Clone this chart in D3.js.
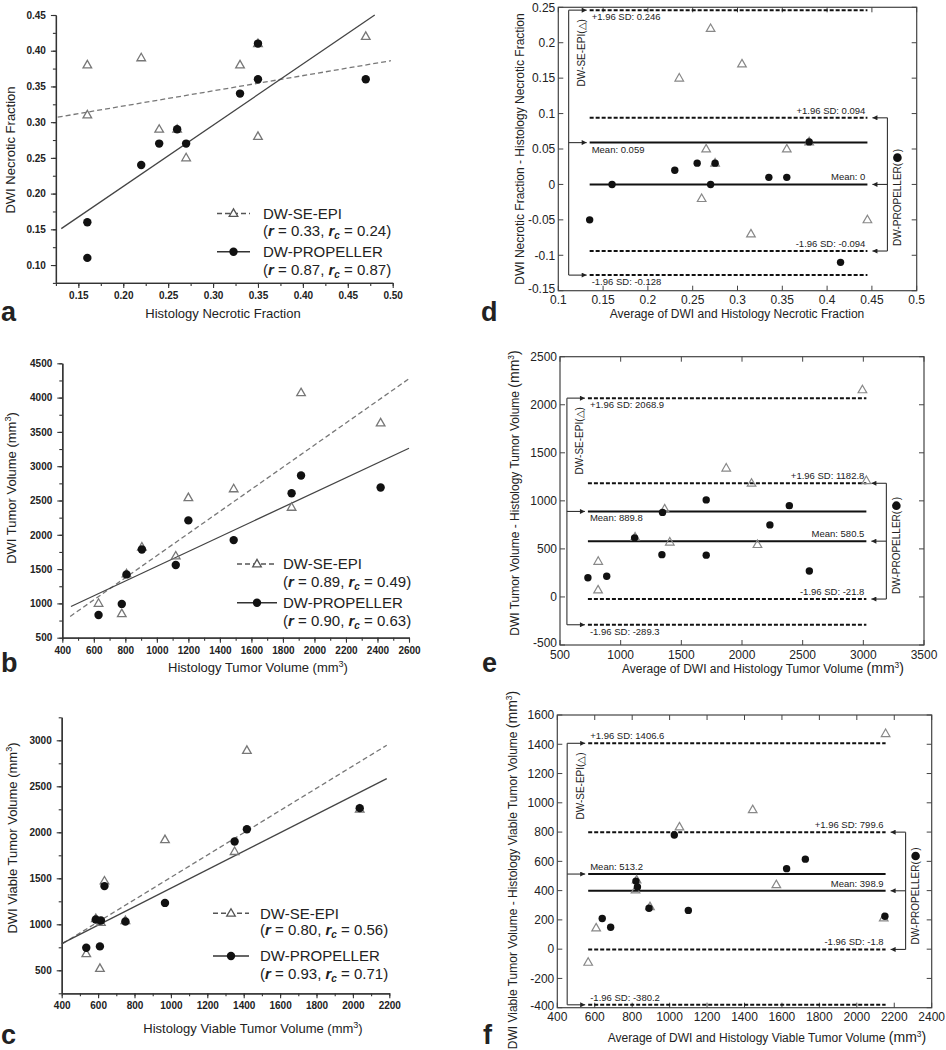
<!DOCTYPE html>
<html><head><meta charset="utf-8">
<script src="https://cdn.jsdelivr.net/npm/d3@7"></script>
<style>
body{margin:0;background:#fff}
svg{display:block}
text{font-family:Arial,"Liberation Sans",Helvetica,sans-serif;fill:#222}
</style>
</head><body>
<svg id="chart" width="946" height="1050"></svg>
<script>
// ---------------- DATA ----------------
// Necrotic fraction (panels a, d)
const necHist = [0.16, 0.16, 0.22, 0.24, 0.26, 0.27, 0.33, 0.35, 0.35, 0.47];
const necEpi  = [0.38, 0.31, 0.39, 0.29, 0.29, 0.25, 0.38, 0.41, 0.28, 0.42];
const necProp = [0.16, 0.11, 0.24, 0.27, 0.29, 0.27, 0.34, 0.36, 0.41, 0.36];
const necFitEpi  = [[0.127, 0.307], [0.498, 0.386]];
const necFitProp = [[0.131, 0.151], [0.480, 0.450]];
const necR  = [0.33, 0.87];
const necRc = [0.24, 0.87];
const necEpiLoA  = [0.246, 0.059, -0.128];
const necPropLoA = [0.094, 0, -0.094];
const necXTicks = [0.15, 0.20, 0.25, 0.30, 0.35, 0.40, 0.45, 0.50];
const necYTicks = [0.10, 0.15, 0.20, 0.25, 0.30, 0.35, 0.40, 0.45];
const necBAXTicks = [0.1, 0.15, 0.2, 0.25, 0.3, 0.35, 0.4, 0.45, 0.5];
const necBAYTicks = [-0.15, -0.1, -0.05, 0, 0.05, 0.1, 0.15, 0.2, 0.25];

// Tumor volume (panels b, e)
const volHist = [630, 777.5, 807.5, 905, 1120, 1200, 1487.5, 1855, 1915, 2420];
const volEpi  = [1000, 850, 1430, 1820, 1690, 2540, 2670, 2400, 4070, 3630];
const volProp = [830, 992.5, 1422.5, 1785, 1560, 2210, 1922.5, 2605, 2865, 2690];
const volFitEpi  = [[450, 810], [2595, 4267]];
const volFitProp = [[455, 955], [2600, 3262]];
const volR  = [0.89, 0.90];
const volRc = [0.49, 0.63];
const volEpiLoA  = [2068.9, 889.8, -289.3];
const volPropLoA = [1182.8, 580.5, -21.8];
const volXTicks = [400, 600, 800, 1000, 1200, 1400, 1600, 1800, 2000, 2200, 2400, 2600];
const volYTicks = [500, 1000, 1500, 2000, 2500, 3000, 3500, 4000, 4500];
const volBAXTicks = [500, 1000, 1500, 2000, 2500, 3000, 3500];
const volBAYTicks = [-500, 0, 500, 1000, 1500, 2000, 2500];

// Viable tumor volume (panels c, f)
const viaHist = [535, 610, 587.5, 615.5, 750, 635, 967.5, 1350, 1417.5, 2037.5];
const viaEpi  = [680, 520, 1060, 1020, 1040, 1470, 1920, 1790, 2890, 2250];
const viaProp = [745, 760, 1052.5, 1040.5, 1030, 1415, 1232.5, 1900, 2032.5, 2262.5];
const viaFitEpi  = [[405, 790], [2186, 2946]];
const viaFitProp = [[400, 790], [2186, 2584]];
const viaR  = [0.80, 0.93];
const viaRc = [0.56, 0.71];
const viaEpiLoA  = [1406.6, 513.2, -380.2];
const viaPropLoA = [799.6, 398.9, -1.8];
const viaXTicks = [400, 600, 800, 1000, 1200, 1400, 1600, 1800, 2000, 2200];
const viaYTicks = [500, 1000, 1500, 2000, 2500, 3000];
const viaBAXTicks = [400, 600, 800, 1000, 1200, 1400, 1600, 1800, 2000, 2200, 2400];
const viaBAYTicks = [-400, -200, 0, 200, 400, 600, 800, 1000, 1200, 1400, 1600];

// ---------------- DRAWING ----------------
const svg = d3.select("#chart");
const defs = svg.append("defs");
defs.append("marker").attr("id", "arr").attr("viewBox", "0 0 6 6")
  .attr("refX", 6).attr("refY", 3).attr("markerWidth", 6).attr("markerHeight", 5)
  .attr("markerUnits", "userSpaceOnUse").attr("orient", "auto")
  .append("path").attr("d", "M0,0L6,3L0,6Z").attr("fill", "#222");

const triPath = "M0,-4.6L4.3,2.9L-4.3,2.9Z";

function addTitle(g, x, y, rotate, parts, size, anchor) {
  const t = g.append("text")
    .attr("transform", `translate(${x},${y})` + (rotate ? " rotate(-90)" : ""))
    .attr("text-anchor", anchor || "middle")
    .attr("font-size", size);
  parts.forEach(p => {
    const s = t.append("tspan").text(p.t);
    if (p.sup) s.attr("baseline-shift", "super").attr("font-size", size * 0.7);
    if (p.size) s.attr("font-size", p.size);
  });
  return t;
}

function scatterPanel(c) {
  const g = svg.append("g");
  const x = d3.scaleLinear().domain(c.xDomain).range(c.xRange);
  const y = d3.scaleLinear().domain(c.yDomain).range(c.yRange);
  const y0 = c.yRange[0], x0 = c.xRange[0];

  const styleAxis = sel => {
    sel.selectAll("path.domain").attr("stroke", "#333").attr("stroke-width", 1.3);
    sel.selectAll(".tick line").attr("stroke", "#333").attr("stroke-width", 1.1);
    sel.selectAll(".tick text").attr("font-size", 10).attr("font-weight", "bold")
      .attr("fill", "#333").attr("font-family", "Arial, 'Liberation Sans', sans-serif");
  };
  g.append("g").attr("transform", `translate(0,${y0})`)
    .call(d3.axisBottom(x).tickValues(c.xMinor).tickSize(3).tickSizeOuter(0).tickFormat(""))
    .call(styleAxis);
  g.append("g").attr("transform", `translate(0,${y0})`)
    .call(d3.axisBottom(x).tickValues(c.xTicks).tickSize(5).tickPadding(4).tickSizeOuter(0).tickFormat(c.fmt))
    .call(styleAxis);
  g.append("g").attr("transform", `translate(${x0},0)`)
    .call(d3.axisLeft(y).tickValues(c.yMinor).tickSize(3).tickSizeOuter(0).tickFormat(""))
    .call(styleAxis);
  g.append("g").attr("transform", `translate(${x0},0)`)
    .call(d3.axisLeft(y).tickValues(c.yTicks).tickSize(5).tickPadding(5).tickSizeOuter(0).tickFormat(c.fmt))
    .call(styleAxis);

  const line = d3.line().x(d => x(d[0])).y(d => y(d[1]));
  g.append("path").attr("d", line(c.fitEpi)).attr("fill", "none")
    .attr("stroke", "#777").attr("stroke-width", 1.3).attr("stroke-dasharray", "5,3");
  g.append("path").attr("d", line(c.fitProp)).attr("fill", "none")
    .attr("stroke", "#444").attr("stroke-width", 1.3);

  g.selectAll("path.tri").data(c.hist.map((h, i) => [h, c.epi[i]])).join("path")
    .attr("class", "tri").attr("d", triPath)
    .attr("transform", d => `translate(${x(d[0])},${y(d[1])})`)
    .attr("fill", "none").attr("stroke", "#777").attr("stroke-width", 1.3);
  g.selectAll("circle.pt").data(c.hist.map((h, i) => [h, c.prop[i]])).join("circle")
    .attr("class", "pt").attr("cx", d => x(d[0])).attr("cy", d => y(d[1]))
    .attr("r", 4.2).attr("fill", "#111");

  // legend
  const L = c.legend;
  g.append("line").attr("x1", L.sx1).attr("x2", L.sx2).attr("y1", L.sy1).attr("y2", L.sy1)
    .attr("stroke", "#555").attr("stroke-width", 1.4).attr("stroke-dasharray", "5,3");
  g.append("path").attr("d", triPath).attr("transform", `translate(${(L.sx1 + L.sx2) / 2},${L.sy1})`)
    .attr("fill", "#fff").attr("stroke", "#555").attr("stroke-width", 1.3);
  g.append("line").attr("x1", L.sx1).attr("x2", L.sx2).attr("y1", L.sy2).attr("y2", L.sy2)
    .attr("stroke", "#333").attr("stroke-width", 1.4);
  g.append("circle").attr("cx", (L.sx1 + L.sx2) / 2).attr("cy", L.sy2).attr("r", 4.2).attr("fill", "#111");

  const names = ["DW-SE-EPI", "DW-PROPELLER"];
  [0, 1].forEach(k => {
    g.append("text").attr("x", L.tx).attr("y", L.b[2 * k]).attr("font-size", 15).text(names[k]);
    const t = g.append("text").attr("x", L.tx).attr("y", L.b[2 * k + 1]).attr("font-size", 15);
    t.append("tspan").text("(");
    t.append("tspan").text("r").attr("font-weight", "bold").attr("font-style", "italic");
    t.append("tspan").text(" = " + c.r[k].toFixed(2) + ", ");
    t.append("tspan").text("r").attr("font-weight", "bold").attr("font-style", "italic");
    t.append("tspan").text("c").attr("font-weight", "bold").attr("font-style", "italic")
      .attr("font-size", 10).attr("dy", 3);
    t.append("tspan").text(" = " + c.rc[k].toFixed(2) + ")").attr("dy", -3);
  });

  addTitle(g, c.yt[0], c.yt[1], true, c.yTitle, 13);
  addTitle(g, c.xt[0], c.xt[1], false, c.xTitle, 13);
  g.append("text").attr("x", c.lab[0]).attr("y", c.lab[1]).attr("font-size", 27)
    .attr("font-weight", "bold").attr("fill", "#111").text(c.label);
}

function baPanel(c) {
  const g = svg.append("g");
  const x = d3.scaleLinear().domain(c.xDomain).range(c.xRange);
  const y = d3.scaleLinear().domain(c.yDomain).range(c.yRange);
  const [X0, X1] = c.xRange, [Y0, Y1] = c.yRange;
  const fmt = v => String(+v.toFixed(3));

  g.append("rect").attr("x", X0).attr("y", Y1).attr("width", X1 - X0).attr("height", Y0 - Y1)
    .attr("fill", "none").attr("stroke", "#444").attr("stroke-width", 1.2);
  c.yTicks.forEach(v => {
    const yy = y(v);
    g.append("line").attr("x1", X0).attr("x2", X0 + 5).attr("y1", yy).attr("y2", yy).attr("stroke", "#444");
    g.append("line").attr("x1", X1 - 5).attr("x2", X1).attr("y1", yy).attr("y2", yy).attr("stroke", "#444");
    g.append("text").attr("x", X0 - 3).attr("y", yy - (v === c.yDomain[0] ? 2 : 0)).attr("dy", "0.36em").attr("text-anchor", "end")
      .attr("font-size", 12).text(fmt(v));
  });
  c.xTicks.forEach(v => {
    const xx = x(v);
    g.append("line").attr("x1", xx).attr("x2", xx).attr("y1", Y0).attr("y2", Y0 - 5).attr("stroke", "#444");
    g.append("line").attr("x1", xx).attr("x2", xx).attr("y1", Y1).attr("y2", Y1 + 5).attr("stroke", "#444");
    g.append("text").attr("x", xx).attr("y", Y0 + 13.5).attr("text-anchor", "middle")
      .attr("font-size", 12).text(fmt(v));
  });

  const epiPts = c.hist.map((h, i) => ({ a: (h + c.epi[i]) / 2, d: c.epi[i] - h }));
  const propPts = c.hist.map((h, i) => ({ a: (h + c.prop[i]) / 2, d: c.prop[i] - h }));
  const ext = d3.extent(epiPts.concat(propPts), p => p.a);
  const xs = x(ext[0]), xe = x(ext[1]);

  const hl = (v, dashed) => g.append("line").attr("x1", xs).attr("x2", xe)
    .attr("y1", y(v)).attr("y2", y(v)).attr("stroke", "#111").attr("stroke-width", 2)
    .attr("stroke-dasharray", dashed ? "4,2" : null);
  [c.epiLoA, c.propLoA].forEach(arr => { hl(arr[0], true); hl(arr[1], false); hl(arr[2], true); });

  const names = ["+1.96 SD: ", "Mean: ", "-1.96 SD: "];
  c.epiLoA.forEach((v, i) => {
    g.append("text").attr("x", xs + 2).attr("y", y(v) + (c.epiAbove ? -4 : 10))
      .attr("font-size", 9.5).text(names[i] + fmt(v));
  });
  c.propLoA.forEach((v, i) => {
    g.append("text").attr("x", xe - 2).attr("y", y(v) - 4).attr("text-anchor", "end")
      .attr("font-size", 9.5).text(names[i] + fmt(v));
  });

  // brackets
  const xbL = xs - 21, tipL = xs - 3;
  g.append("line").attr("x1", xbL).attr("x2", xbL).attr("y1", y(c.epiLoA[0])).attr("y2", y(c.epiLoA[2]))
    .attr("stroke", "#333").attr("stroke-width", 1.1);
  c.epiLoA.forEach(v => g.append("line").attr("x1", xbL).attr("x2", tipL).attr("y1", y(v)).attr("y2", y(v))
    .attr("stroke", "#333").attr("stroke-width", 1.1).attr("marker-end", "url(#arr)"));
  const tipR = xe + 5, xbR = tipR + 15;
  g.append("line").attr("x1", xbR).attr("x2", xbR).attr("y1", y(c.propLoA[0])).attr("y2", y(c.propLoA[2]))
    .attr("stroke", "#333").attr("stroke-width", 1.1);
  c.propLoA.forEach(v => g.append("line").attr("x1", xbR).attr("x2", tipR).attr("y1", y(v)).attr("y2", y(v))
    .attr("stroke", "#333").attr("stroke-width", 1.1).attr("marker-end", "url(#arr)"));

  g.append("text").attr("transform", `translate(${xbL + 13},${y(c.epiLoA[0]) + 9}) rotate(-90)`)
    .attr("text-anchor", "end").attr("dominant-baseline", "central").attr("font-size", 10)
    .text("DW-SE-EPI(\u25B3)");
  const ptx = xbR + 10, pyb = y(c.propLoA[2]) - 5;
  const pt = g.append("text").attr("transform", `translate(${ptx},${pyb}) rotate(-90)`)
    .attr("dominant-baseline", "central").attr("font-size", 10).text("DW-PROPELLER(");
  const Lp = pt.node().getComputedTextLength();
  g.append("circle").attr("cx", ptx).attr("cy", pyb - Lp - 5.2).attr("r", 4.3).attr("fill", "#111");
  g.append("text").attr("transform", `translate(${ptx},${pyb - Lp - 10.5}) rotate(-90)`)
    .attr("dominant-baseline", "central").attr("font-size", 10).text(")");

  // points
  g.selectAll("path.tri").data(epiPts).join("path").attr("class", "tri").attr("d", triPath)
    .attr("transform", p => `translate(${x(p.a)},${y(p.d)})`)
    .attr("fill", "none").attr("stroke", "#888").attr("stroke-width", 1.2);
  g.selectAll("circle.pt").data(propPts).join("circle").attr("class", "pt")
    .attr("cx", p => x(p.a)).attr("cy", p => y(p.d)).attr("r", 3.7).attr("fill", "#111");

  addTitle(g, c.yt[0], c.yt[1], true, c.yTitle, 12);
  addTitle(g, c.xt[0], c.xt[1], false, c.xTitle, 12);
  g.append("text").attr("x", c.lab[0]).attr("y", c.lab[1]).attr("font-size", 27)
    .attr("font-weight", "bold").attr("fill", "#111").text(c.label);
}

const f2 = d3.format(".2f"), fi = d3.format("d");

scatterPanel({
  xDomain: [0.125, 0.5], xRange: [55.9, 392.7], yDomain: [0.075, 0.45], yRange: [282.9, 15],
  xTicks: necXTicks, yTicks: necYTicks,
  xMinor: d3.range(0.125, 0.5001, 0.025), yMinor: d3.range(0.075, 0.4501, 0.025), fmt: f2,
  hist: necHist, epi: necEpi, prop: necProp, fitEpi: necFitEpi, fitProp: necFitProp,
  r: necR, rc: necRc,
  legend: { sx1: 217, sx2: 250, sy1: 213.5, sy2: 251.7, tx: 263, b: [218.8, 235.5, 257, 274.5] },
  yt: [15, 150], xt: [223, 318],
  yTitle: [{ t: "DWI Necrotic Fraction" }], xTitle: [{ t: "Histology Necrotic Fraction" }],
  lab: [1, 321], label: "a"
});
scatterPanel({
  xDomain: [400, 2600], xRange: [62.3, 409], yDomain: [500, 4500], yRange: [637.7, 363.3],
  xTicks: volXTicks, yTicks: volYTicks,
  xMinor: d3.range(400, 2601, 100), yMinor: d3.range(500, 4501, 250), fmt: fi,
  hist: volHist, epi: volEpi, prop: volProp, fitEpi: volFitEpi, fitProp: volFitProp,
  r: volR, rc: volRc,
  legend: { sx1: 237, sx2: 277, sy1: 564, sy2: 602.7, tx: 283, b: [569.3, 587, 608, 626] },
  yt: [16, 488], xt: [258, 671.5],
  yTitle: [{ t: "DWI Tumor Volume (mm" }, { t: "3", sup: true }, { t: ")" }],
  xTitle: [{ t: "Histology Tumor Volume (mm" }, { t: "3", sup: true }, { t: ")" }],
  lab: [1, 672], label: "b"
});
scatterPanel({
  xDomain: [400, 2200], xRange: [61.7, 389.3], yDomain: [250, 3250], yRange: [993.3, 717.3],
  xTicks: viaXTicks, yTicks: viaYTicks,
  xMinor: d3.range(400, 2201, 100), yMinor: d3.range(250, 3251, 250), fmt: fi,
  hist: viaHist, epi: viaEpi, prop: viaProp, fitEpi: viaFitEpi, fitProp: viaFitProp,
  r: viaR, rc: viaRc,
  legend: { sx1: 213, sx2: 249, sy1: 913.3, sy2: 956, tx: 260, b: [918.6, 934.5, 961, 978.5] },
  yt: [17, 838], xt: [253, 1033],
  yTitle: [{ t: "DWI Viable Tumor Volume (mm" }, { t: "3", sup: true }, { t: ")" }],
  xTitle: [{ t: "Histology Viable Tumor Volume  (mm" }, { t: "3", sup: true }, { t: ")" }],
  lab: [1, 1044], label: "c"
});

baPanel({
  xDomain: [0.1, 0.5], xRange: [558.3, 916.7], yDomain: [-0.15, 0.25], yRange: [290.7, 7.3],
  xTicks: necBAXTicks, yTicks: necBAYTicks,
  hist: necHist, epi: necEpi, prop: necProp, epiLoA: necEpiLoA, propLoA: necPropLoA, epiAbove: false,
  yt: [524, 149], xt: [737, 318],
  yTitle: [{ t: "DWI Necrotic Fraction - Histology Necrotic Fraction" }],
  xTitle: [{ t: "Average of DWI and Histology Necrotic Fraction" }],
  lab: [481, 321], label: "d"
});
baPanel({
  xDomain: [500, 3500], xRange: [560, 924], yDomain: [-500, 2500], yRange: [645, 356.7],
  xTicks: volBAXTicks, yTicks: volBAYTicks,
  hist: volHist, epi: volEpi, prop: volProp, epiLoA: volEpiLoA, propLoA: volPropLoA, epiAbove: false,
  yt: [519, 493], xt: [763, 673],
  yTitle: [{ t: "DWI Tumor Volume - Histology Tumor Volume " }, { t: "(mm", size: 14 }, { t: "3", sup: true }, { t: ")", size: 14 }],
  xTitle: [{ t: "Average of DWI and Histology Tumor Volume " }, { t: "(mm", size: 14 }, { t: "3", sup: true }, { t: ")", size: 14 }],
  lab: [482, 672], label: "e"
});
baPanel({
  xDomain: [400, 2400], xRange: [557.3, 931.7], yDomain: [-400, 1600], yRange: [1007.7, 715],
  xTicks: viaBAXTicks, yTicks: viaBAYTicks,
  hist: viaHist, epi: viaEpi, prop: viaProp, epiLoA: viaEpiLoA, propLoA: viaPropLoA, epiAbove: true,
  yt: [517, 870], xt: [767, 1042],
  yTitle: [{ t: "DWI Viable Tumor Volume - Histology Viable Tumor Volume " }, { t: "(mm", size: 14 }, { t: "3", sup: true }, { t: ")", size: 14 }],
  xTitle: [{ t: "Average of DWI and Histology Viable Tumor Volume " }, { t: "(mm", size: 14 }, { t: "3", sup: true }, { t: ")", size: 14 }],
  lab: [483, 1044], label: "f"
});
</script>
</body></html>
